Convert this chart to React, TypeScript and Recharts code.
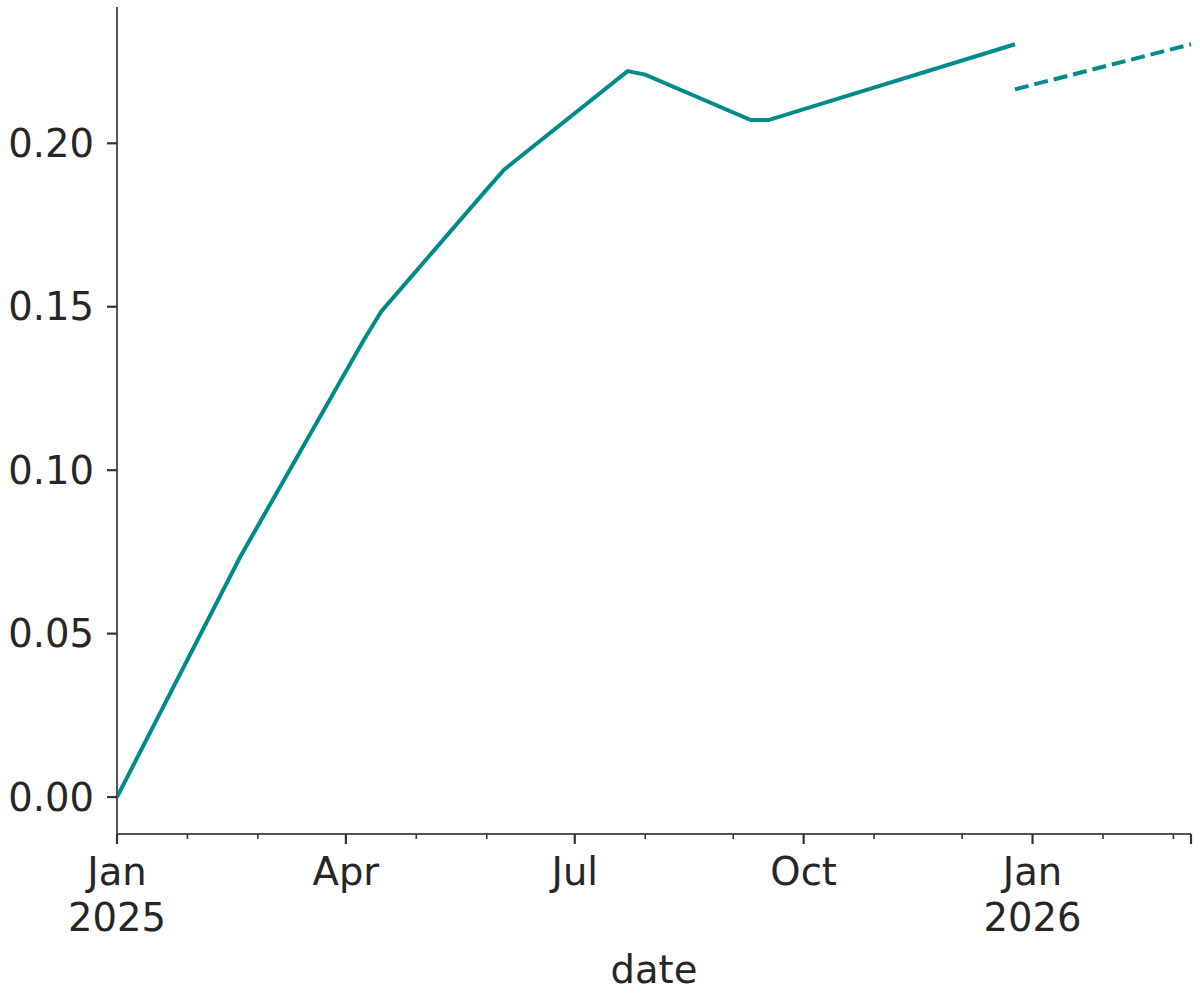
import { LineChart, Line, XAxis, YAxis, Label } from "recharts";

// x is the weekly period index, week 0 = first week of Jan 2025
const weeks = [0, 7, 14, 15, 21, 22, 29, 30, 36, 37, 51, 61];
const actual = [0.0, 0.0735, 0.1397, 0.1485, 0.1859, 0.192, 0.2221, 0.221, 0.2071, 0.2071, 0.2303, null];
const forecast = [null, null, null, null, null, null, null, null, null, null, 0.2165, 0.2303];

const monthTicks = [0, 4, 8, 13, 17, 21, 26, 30, 35, 39, 43, 48, 52, 56, 60, 61];
const majorTicks = [0, 13, 26, 39, 52, 61];
const tickLabels: Record<number, string[]> = {
  0: ["Jan", "2025"],
  13: ["Apr"],
  26: ["Jul"],
  39: ["Oct"],
  52: ["Jan", "2026"],
};
const yTicks = [0, 0.05, 0.1, 0.15, 0.2];

const data = weeks.map((w, i) => ({ week: w, actual: actual[i], forecast: forecast[i] }));

const TEAL = "#008B8B";
const TEXT = "#262626";
const FONT = "DejaVu Sans";
const FS = 38.5;

function DateTick(props: any) {
  const { x, y, payload } = props;
  const major = majorTicks.includes(payload.value);
  const lines = tickLabels[payload.value] || [];
  return (
    <g>
      <line
        x1={x}
        x2={x}
        y1={y}
        y2={y + (major ? 10 : 5)}
        stroke="#333"
        strokeWidth={major ? 2.2 : 1.6}
      />
      {lines.map((t, i) => (
        <text
          key={i}
          x={x}
          y={y + 51 + i * 46}
          textAnchor="middle"
          fontSize={FS}
          fontFamily={FONT}
          fill={TEXT}
        >
          {t}
        </text>
      ))}
    </g>
  );
}

export default function App() {
  return (
    <div style={{ position: "absolute", left: 0, top: 0, background: "#fff" }}>
      <LineChart
        width={1200}
        height={1000}
        data={data}
        margin={{ top: 7, right: 9, left: 0, bottom: 0 }}
      >
        <XAxis
          dataKey="week"
          type="number"
          domain={[0, 61]}
          ticks={monthTicks}
          interval={0}
          height={166}
          tickLine={false}
          tickSize={0}
          tickMargin={0}
          axisLine={{ stroke: "#555", strokeWidth: 2 }}
          tick={<DateTick />}
        >
          <Label
            value="date"
            position="insideBottom"
            offset={17}
            fontSize={FS}
            fontFamily={FONT}
            fill={TEXT}
          />
        </XAxis>
        <YAxis
          type="number"
          width={117}
          domain={[-0.0113, 0.2417]}
          allowDataOverflow
          ticks={yTicks}
          interval={0}
          tickFormatter={(v: number) => v.toFixed(2)}
          tickSize={10}
          tickMargin={13}
          tickLine={{ stroke: "#333", strokeWidth: 2.2 }}
          axisLine={{ stroke: "#555", strokeWidth: 2 }}
          tick={{ fontSize: FS, fontFamily: FONT, fill: TEXT }}
        />
        <Line
          dataKey="actual"
          stroke={TEAL}
          strokeWidth={4}
          dot={false}
          activeDot={false}
          connectNulls={false}
          isAnimationActive={false}
        />
        <Line
          dataKey="forecast"
          stroke={TEAL}
          strokeWidth={4}
          strokeDasharray="14 6"
          dot={false}
          activeDot={false}
          connectNulls={false}
          isAnimationActive={false}
        />
      </LineChart>
    </div>
  );
}
